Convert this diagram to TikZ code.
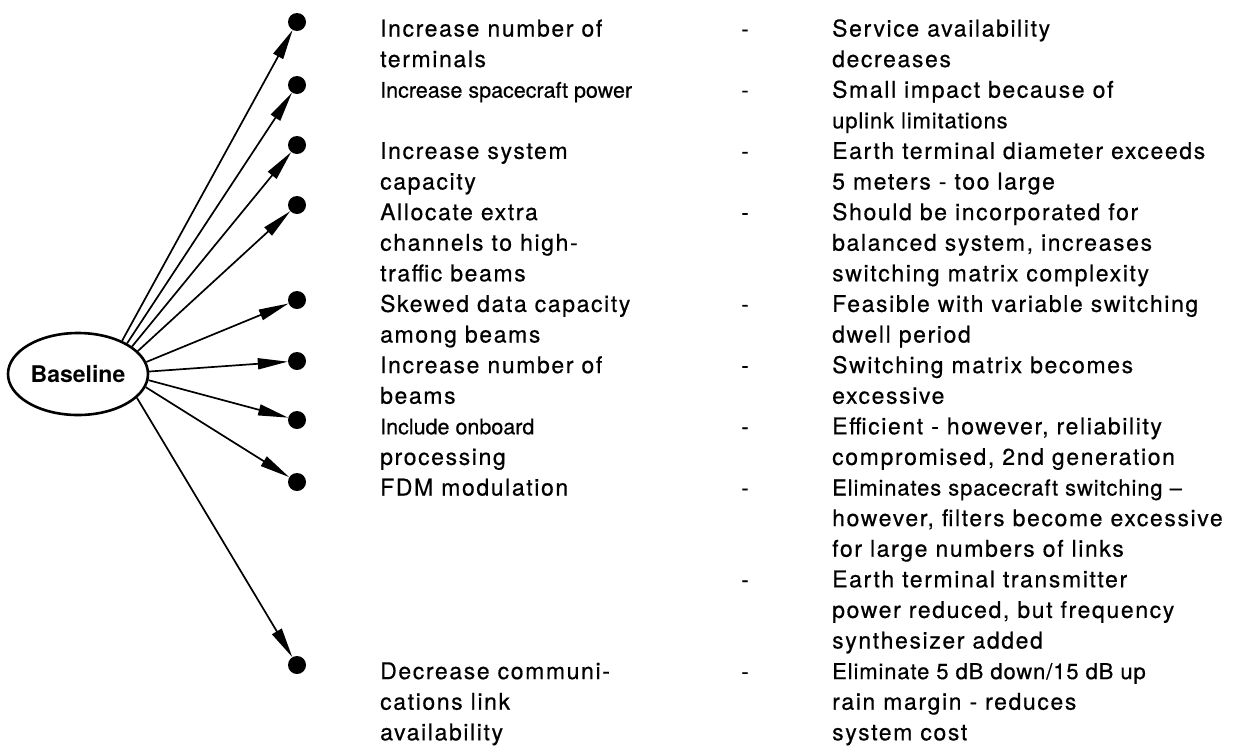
\documentclass[tikz,border=0pt]{standalone}
\usepackage{fontspec}
\setmainfont{TeX Gyre Heros}
\newfontfamily\widefont[LetterSpace=7,FakeBold=0.5]{TeX Gyre Heros}
\newfontfamily\midfont[LetterSpace=4,FakeBold=0.5]{TeX Gyre Heros}
\newfontfamily\plainfont[FakeBold=0.5]{TeX Gyre Heros}
\usetikzlibrary{arrows.meta,shapes.geometric}
\tikzset{
  item/.style={anchor=base west, inner sep=0pt, font=\widefont\fontsize{23}{25}\selectfont},
  narrowitem/.style={anchor=base west, inner sep=0pt, font=\plainfont\fontsize{21.5}{25}\selectfont},
  miditem/.style={anchor=base west, inner sep=0pt, font=\midfont\fontsize{22}{25}\selectfont},
  dashmark/.style={anchor=base, inner sep=0pt, font=\plainfont\fontsize{22}{25}\selectfont},
  dot/.style={circle, fill=black, minimum size=18pt, inner sep=0pt},
  arr/.style={line width=1.7pt, -{Triangle[length=30pt,width=11pt]}},
  oval/.style={ellipse, draw, line width=2.6pt, minimum width=140pt, minimum height=82pt, inner sep=0pt,
    font=\bfseries\fontsize{23}{25}\selectfont}
}
\begin{document}
\begin{tikzpicture}[x=1pt,y=-1pt]
\useasboundingbox (0,0) rectangle (1233,747);
\node[oval] (bl) at (78,374) {Baseline};
\foreach \n/\yy in {1/22,2/85,3/145,4/205,5/300,6/361,7/420,8/482,9/665}
  \node[dot] (d\n) at (297,\yy) {};
\foreach \n/\a in {1/37,2/32,3/27,4/21,5/10,6/2,7/-5,8/-11,9/-22}
  \draw[arr] (bl.\a) -- (d\n);
% left column
\foreach \i/\t in {0/{Increase number of},1/{terminals},4/{Increase system},5/{capacity},
  6/{Allocate extra},7/{channels to high-},8/{traffic beams},9/{Skewed data capacity},
  10/{among beams},11/{Increase number of},12/{beams},14/{processing},15/{FDM modulation},
  21/{Decrease communi-},22/{cations link},23/{availability}}
  \node[item] (L\i) at (380,36.5+30.6*\i) {\t};
\foreach \i/\t in {2/{Increase spacecraft power},13/{Include onboard}}
  \node[narrowitem] (L\i) at (380,36.5+30.6*\i) {\t};
% dashes
\foreach \i in {0,2,4,6,9,11,13,15,18,21}
  \node[dashmark] (D\i) at (745,36.5+30.6*\i) {-};
% right column
\foreach \i/\t in {0/{Service availability},1/{decreases},2/{Small impact because of},
  4/{Earth terminal diameter exceeds},5/{5 meters - too large},6/{Should be incorporated for},
  7/{balanced system, increases},8/{switching matrix complexity},9/{Feasible with variable switching},
  10/{dwell period},11/{Switching matrix becomes},12/{excessive},13/{Efficient - however, reliability},
  14/{compromised, 2nd generation},16/{however, filters become excessive},17/{for large numbers of links},
  18/{Earth terminal transmitter},19/{power reduced, but frequency},20/{synthesizer added},
  22/{rain margin - reduces},23/{system cost}}
  \node[item] (R\i) at (832,36.5+30.6*\i) {\t};
\foreach \i/\t in {3/{uplink limitations},15/{Eliminates spacecraft switching –},21/{Eliminate 5 dB down/15 dB up}}
  \node[miditem] (R\i) at (832,36.5+30.6*\i) {\t};
\end{tikzpicture}
\end{document}
